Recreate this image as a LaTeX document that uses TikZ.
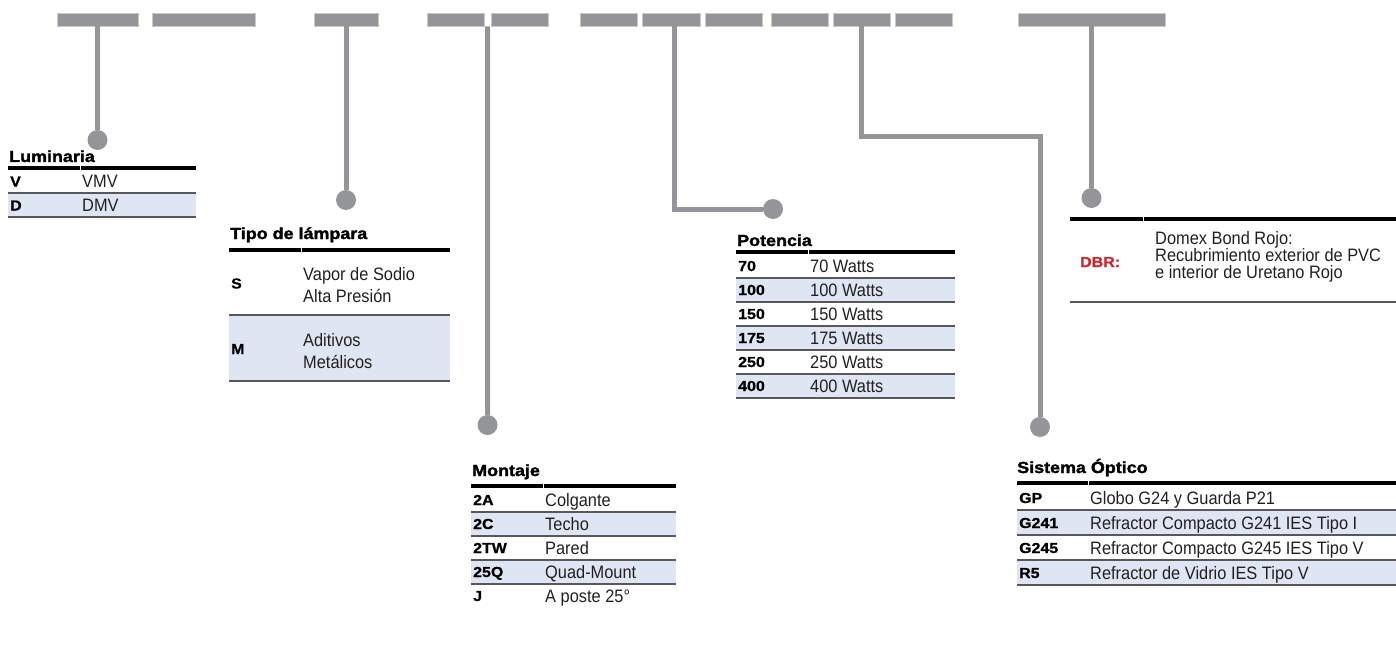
\documentclass[tikz,border=0pt]{standalone}
\usepackage{fontspec}
\setmainfont{Liberation Sans}
\newfontfamily\descfont{Liberation Sans}[FakeStretch=0.91]
\newfontfamily\headfont{Liberation Sans Bold}[FakeStretch=1.12,FakeBold=1.8]
\newfontfamily\codefont{Liberation Sans Bold}[FakeStretch=1.1,FakeBold=0.8]
\usetikzlibrary{calc}
\definecolor{bargray}{HTML}{939598}
\definecolor{baredge}{HTML}{C8C9CB}
\definecolor{rowblue}{HTML}{DFE6F3}
\definecolor{sepgray}{HTML}{58585A}
\definecolor{dbrred}{HTML}{C8272D}
\definecolor{ink}{HTML}{231F20}
\tikzset{
  bar/.style={rectangle,fill=bargray,draw=baredge,line width=0.6pt,minimum height=13pt,inner sep=0pt},
  stem/.style={draw=bargray,line width=5pt,line join=miter},
  dot/.style={circle,fill=bargray,minimum size=20pt,inner sep=0pt},
  thick/.style={draw=black,line width=4.5pt},
  sep/.style={draw=sepgray,line width=1.3pt},
  blue/.style={fill=rowblue},
  gap/.style={draw=white,line width=1pt},
  title/.style={anchor=base west,inner sep=0pt,font=\headfont\fontsize{16}{18}\selectfont,text=black},
  code/.style={anchor=base west,inner sep=0pt,font=\codefont\fontsize{14.5}{17}\selectfont,text=black},
  desc/.style={anchor=base west,inner sep=0pt,font=\descfont\fontsize{18}{21}\selectfont,text=ink},
  descm/.style={anchor=west,inner sep=0pt,align=left,font=\descfont\fontsize{18}{22}\selectfont,text=ink},
}
\begin{document}
\begin{tikzpicture}[x=1pt,y=-1pt]
\useasboundingbox (0,0) rectangle (1396,671);
% ---------- top code bars ----------
\node[bar,minimum width=81pt]  (b1)  at (97.5,19.5) {};
\node[bar,minimum width=103pt] (b2)  at (203.5,19.5) {};
\node[bar,minimum width=64pt]  (b3)  at (346,19.5) {};
\node[bar,minimum width=57pt]  (b4)  at (455.5,19.5) {};
\node[bar,minimum width=57pt]  (b5)  at (519.5,19.5) {};
\node[bar,minimum width=57pt]  (b6)  at (608.5,19.5) {};
\node[bar,minimum width=58pt]  (b7)  at (671,19.5) {};
\node[bar,minimum width=57pt]  (b8)  at (733.5,19.5) {};
\node[bar,minimum width=57pt]  (b9)  at (799.5,19.5) {};
\node[bar,minimum width=57pt]  (b10) at (861.5,19.5) {};
\node[bar,minimum width=57pt]  (b11) at (923.5,19.5) {};
\node[bar,minimum width=147pt] (b12) at (1091.5,19.5) {};
% ---------- dots ----------
\node[dot] (dLum) at (97.5,140) {};
\node[dot] (dTip) at (346,200) {};
\node[dot] (dMon) at (487.5,425) {};
\node[dot] (dPot) at (773,209) {};
\node[dot] (dSis) at (1040,427) {};
\node[dot] (dDbr) at (1091.5,198) {};
\coordinate (sMon) at ($(b4.south east)!0.5!(b5.south west)$);
\coordinate (kPot) at (674,209);
\coordinate (sPot) at (674,26);
\coordinate (kSis) at (1040,137);
% ---------- connectors ----------
\draw[stem] (b1.south) -- (dLum.north);
\draw[stem] (b3.south) -- (dTip.north);
\draw[stem] (sMon) -- (dMon.north);
\draw[stem] (sPot) -- (kPot) -- (dPot.west);
\draw[stem] (b10.south) |- (kSis) -- (dSis.north);
\draw[stem] (b12.south) -- (dDbr.north);

% ---------- Luminaria ----------
\fill[blue] (8,193) rectangle (196,217);
\draw[thick] (8,168) -- (196,168);
\draw[sep] (8,193) -- (196,193);
\draw[sep] (8,217) -- (196,217);
\draw[gap] (80,165.5) -- (80,170.5);
\node[title] (tLum) at (9,162) {Luminaria};
\node[code] (cLum1) at (10,186.5) {V};
\node[desc] (eLum1) at (82,187.5) {VMV};
\node[code] (cLum2) at (10,210.5) {D};
\node[desc] (eLum2) at (82,211.5) {DMV};

% ---------- Tipo de lámpara ----------
\fill[blue] (229,315) rectangle (450,381);
\draw[thick] (229,250) -- (450,250);
\draw[sep] (229,315) -- (450,315);
\draw[sep] (229,381) -- (450,381);
\draw[gap] (301,247.5) -- (301,252.5);
\node[title] (tTip) at (230,239) {Tipo de lámpara};
\node[code] (cTip1) at (231,288.5) {S};
\node[descm] (eTip1) at (303,285) {Vapor de Sodio\\Alta Presión};
\node[code] (cTip2) at (231,354) {M};
\node[descm] (eTip2) at (303,351) {Aditivos\\Metálicos};

% ---------- Montaje ----------
\fill[blue] (471,512) rectangle (676,536);
\fill[blue] (471,560) rectangle (676,584);
\draw[thick] (471,486) -- (676,486);
\foreach \yy in {512,536,560,584} \draw[sep] (471,\yy) -- (676,\yy);
\draw[gap] (543,483.5) -- (543,488.5);
\node[title] (tMon) at (472,476) {Montaje};
\node[code] (cMon1) at (473,505) {2A};
\node[desc] (eMon1) at (545,506.5) {Colgante};
\node[code] (cMon2) at (473,529) {2C};
\node[desc] (eMon2) at (545,530.5) {Techo};
\node[code] (cMon3) at (473,553) {2TW};
\node[desc] (eMon3) at (545,554.5) {Pared};
\node[code] (cMon4) at (473,577) {25Q};
\node[desc] (eMon4) at (545,578.5) {Quad-Mount};
\node[code] (cMon5) at (473,601) {J};
\node[desc] (eMon5) at (545,602.5) {A poste 25°};

% ---------- Potencia ----------
\fill[blue] (736,278) rectangle (955,302);
\fill[blue] (736,326) rectangle (955,350);
\fill[blue] (736,374) rectangle (955,398);
\draw[thick] (736,252) -- (955,252);
\foreach \yy in {278,302,326,350,374,398} \draw[sep] (736,\yy) -- (955,\yy);
\draw[gap] (808,249.5) -- (808,254.5);
\node[title] (tPot) at (737,246) {Potencia};
\node[code] (cPot1) at (738,271) {70};
\node[desc] (ePot1) at (810,272.5) {70 Watts};
\node[code] (cPot2) at (738,295) {100};
\node[desc] (ePot2) at (810,296.5) {100 Watts};
\node[code] (cPot3) at (738,319) {150};
\node[desc] (ePot3) at (810,320.5) {150 Watts};
\node[code] (cPot4) at (738,343) {175};
\node[desc] (ePot4) at (810,344.5) {175 Watts};
\node[code] (cPot5) at (738,367) {250};
\node[desc] (ePot5) at (810,368.5) {250 Watts};
\node[code] (cPot6) at (738,391) {400};
\node[desc] (ePot6) at (810,392.5) {400 Watts};

% ---------- Sistema Óptico ----------
\fill[blue] (1017,510) rectangle (1396,535);
\fill[blue] (1017,560) rectangle (1396,585);
\draw[thick] (1017,483) -- (1396,483);
\foreach \yy in {510,535,560,585} \draw[sep] (1017,\yy) -- (1396,\yy);
\draw[gap] (1088,480.5) -- (1088,485.5);
\node[title] (tSis) at (1017,473) {Sistema Óptico};
\node[code] (cSis1) at (1019,503) {GP};
\node[desc] (eSis1) at (1090,504.5) {Globo G24 y Guarda P21};
\node[code] (cSis2) at (1019,528) {G241};
\node[desc] (eSis2) at (1090,529.5) {Refractor Compacto G241 IES Tipo I};
\node[code] (cSis3) at (1019,553) {G245};
\node[desc] (eSis3) at (1090,554.5) {Refractor Compacto G245 IES Tipo V};
\node[code] (cSis4) at (1019,578) {R5};
\node[desc] (eSis4) at (1090,579.5) {Refractor de Vidrio IES Tipo V};

% ---------- DBR ----------
\draw[thick] (1070,219) -- (1396,219);
\draw[sep] (1070,302) -- (1396,302);
\draw[gap] (1143,216.5) -- (1143,221.5);
\node[code,text=dbrred] (cDbr) at (1080,267) {DBR:};
\node[anchor=west,inner sep=0pt,align=left,font=\descfont\fontsize{18}{17}\selectfont,text=ink] (eDbr) at (1155,257) {Domex Bond Rojo:\\Recubrimiento exterior de PVC\\e interior de Uretano Rojo};
\end{tikzpicture}
\end{document}
